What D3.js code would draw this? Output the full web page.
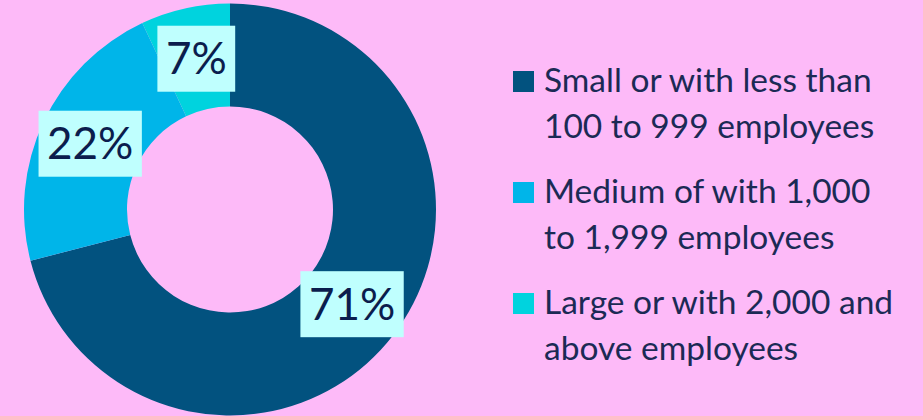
<!DOCTYPE html>
<html>
<head>
<meta charset="utf-8">
<script src="https://cdn.jsdelivr.net/npm/d3@7"></script>
<style>
  html, body { margin: 0; padding: 0; background: #FDBAF8; }
  svg { display: block; }
</style>
</head>
<body>
<svg id="chart" width="923" height="416"></svg>
<script>
// Company size shares (percent)
const categories = [
  "Small or with less than 100 to 999 employees",
  "Medium of with 1,000 to 1,999 employees",
  "Large or with 2,000 and above employees"
];
const legendLines = [
  ["Small or with less than", "100 to 999 employees"],
  ["Medium of with 1,000", "to 1,999 employees"],
  ["Large or with 2,000 and", "above employees"]
];
const shares = [71, 22, 7];
const colors = ["#02527F", "#00B5E9", "#00D3DE"];

const svg = d3.select("#chart");
const cx = 230, cy = 209.5, outerR = 206, innerR = 103;

const pie = d3.pie().sort(null).value(d => d.value);
const arcs = pie(shares.map((v, i) => ({ value: v, name: categories[i], i })));
const arc = d3.arc().innerRadius(innerR).outerRadius(outerR);
const color = d3.scaleOrdinal().domain(categories).range(colors);

const g = svg.append("g").attr("transform", `translate(${cx},${cy})`);

g.selectAll("path.slice")
  .data(arcs)
  .join("path")
  .attr("class", "slice")
  .attr("d", arc)
  .attr("fill", d => color(d.data.name));

// Value labels on light boxes at each slice's centroid
const labelFont = "Lato, 'Open Sans', sans-serif";
const labels = g.selectAll("g.label")
  .data(arcs)
  .join("g")
  .attr("class", "label")
  .attr("transform", d => `translate(${arc.centroid(d)})`);

labels.append("rect").attr("fill", "#BFFFFE");
labels.append("text")
  .attr("text-anchor", "middle")
  .attr("dy", "0.35em")
  .attr("font-family", labelFont)
  .attr("font-size", 44)
  .attr("fill", "#0B1D4D")
  .text(d => d.data.value + "%");

labels.each(function() {
  const t = d3.select(this).select("text").node();
  const w = t.getComputedTextLength();
  const padX = 8.5, h = 66;
  d3.select(this).select("rect")
    .attr("x", -w / 2 - padX)
    .attr("y", -h / 2)
    .attr("width", w + 2 * padX)
    .attr("height", h);
});

// Legend
const legend = svg.append("g").attr("transform", "translate(513,71)");
const items = legend.selectAll("g.item")
  .data(categories)
  .join("g")
  .attr("class", "item")
  .attr("transform", (d, i) => `translate(0,${i * 111})`);

items.append("rect")
  .attr("width", 21)
  .attr("height", 21)
  .attr("fill", d => color(d));

items.append("text")
  .attr("font-family", labelFont)
  .attr("font-size", 33.5)
  .attr("fill", "#1B2A55")
  .selectAll("tspan")
  .data((d, i) => legendLines[i])
  .join("tspan")
  .attr("x", 31)
  .attr("y", (d, j) => 21 + j * 45.6)
  .text(d => d);
</script>
</body>
</html>
